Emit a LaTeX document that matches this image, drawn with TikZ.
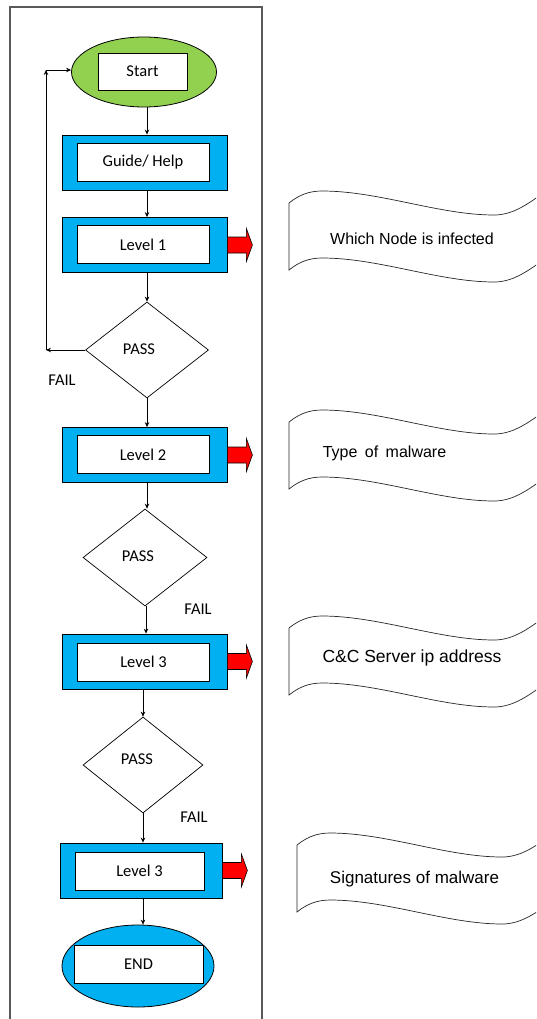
\documentclass[tikz,border=0pt]{standalone}
\usepackage{fontspec}
\setmainfont{Carlito}
\newfontfamily\arialf{Liberation Sans}
\usetikzlibrary{shapes.geometric,arrows.meta,calc}
\definecolor{cblue}{HTML}{00B0F0}
\definecolor{cgreen}{HTML}{92D050}
\definecolor{cframe}{HTML}{595959}
\begin{document}
\begin{tikzpicture}[x=1pt,y=-1pt,
  outerbox/.style={draw=black, fill=cblue, minimum width=165pt, minimum height=55pt, inner sep=0pt, line width=0.8pt},
  innerbox/.style={draw=black, fill=white, minimum width=132pt, minimum height=38pt, inner sep=0pt, line width=0.8pt, font=\fontsize{16.5}{18}\selectfont},
  oval/.style={ellipse, draw=black, line width=0.8pt, inner sep=0pt},
  decision/.style={diamond, draw=black, line width=0.7pt, inner sep=0pt, minimum width=123pt, minimum height=96pt},
  lbl/.style={inner sep=0pt, font=\fontsize{16.5}{18}\selectfont},
  wavetxt/.style={inner sep=0pt, font=\arialf\fontsize{16}{18}\selectfont},
  arr/.style={-{Stealth[length=5pt,width=4.5pt]}, line width=0.8pt},
  redarrow/.style={fill=red, draw=black, line width=0.6pt},
  waveline/.style={draw=black!85, line width=0.7pt}
]
\useasboundingbox (0,0) rectangle (536,1019);
\clip (0,0) rectangle (536,1019);

% frame
\draw[cframe, line width=1.2pt] (10,1030) -- (10,7) -- (262,7) -- (262,1030);

% start
\node[oval, fill=cgreen, minimum width=145pt, minimum height=70pt] (start) at (144,72) {};
\node[innerbox, minimum width=89pt, minimum height=37pt] (starttxt) at (142.5,71.5) {Start};

% guide
\node[outerbox] (guide) at (144.5,162.5) {};
\node[innerbox] (guidetxt) at (143,162) {Guide/ Help};

% level 1
\node[outerbox] (l1) at (144.5,245) {};
\node[innerbox] (l1txt) at (143,244.5) {Level 1};

% decision 1
\node[decision] (d1) at (147,350) {};
\node[lbl] (d1txt) at (139,349) {PASS};
\node[lbl] (fail1) at (62,380) {FAIL};

% level 2
\node[outerbox] (l2) at (144.5,455) {};
\node[innerbox] (l2txt) at (143,454.5) {Level 2};

% decision 2
\node[decision, minimum width=124pt, minimum height=97pt] (d2) at (145,557.5) {};
\node[lbl] (d2txt) at (138,556) {PASS};
\node[lbl] (fail2) at (198,609) {FAIL};

% level 3
\node[outerbox] (l3) at (144.5,661.5) {};
\node[innerbox] (l3txt) at (143.5,662) {Level 3};

% decision 3
\node[decision, minimum width=120pt, minimum height=96pt] (d3) at (143,765) {};
\node[lbl] (d3txt) at (137,759) {PASS};
\node[lbl] (fail3) at (194,817) {FAIL};

% level 3 (second)
\node[outerbox, minimum width=162pt] (l4) at (141,870.5) {};
\node[innerbox, minimum width=129pt] (l4txt) at (139.5,871) {Level 3};

% end
\node[oval, fill=cblue, minimum width=152pt, minimum height=82pt] (end) at (138,966) {};
\node[innerbox, minimum width=129pt] (endtxt) at (138.5,964) {END};

% vertical connectors
\coordinate (colA) at (147,0);
\coordinate (colB) at (146,0);
\coordinate (colC) at (143,0);
\draw[arr] (colA |- start.south) -- (colA |- guide.north);
\draw[arr] (colA |- guide.south) -- (colA |- l1.north);
\draw[arr] (colA |- l1.south) -- (d1.north);
\draw[arr] (d1.south) -- (colA |- l2.north);
\draw[arr] (colA |- l2.south) -- (colA |- d2.north);
\draw[arr] (colB |- d2.south) -- (colB |- l3.north);
\draw[arr] (colC |- l3.south) -- (d3.north);
\draw[arr] (d3.south) -- (colC |- l4.north);
\draw[arr] (colC |- l4.south) -- (colC |- end.north);

% loop back
\coordinate (lp1) at (46,350);
\coordinate (lp2) at (46,70);
\draw[arr] (d1.west) -- (lp1);
\draw[arr] (lp1) -- (lp2);
\draw[arr] (lp2) -- (start.west |- lp2);

% red arrows
\foreach \b in {l1,l2,l3,l4}{
  \draw[redarrow] ($(\b.east)+(0,-8)$) -- ++(19,0) -- ++(0,-8.5) -- ++(6,16.5) -- ++(-6,16.5) -- ++(0,-8.5) -- ++(-19,0) -- cycle;
}

% waves
\foreach \wx/\wy in {289/203, 289/422, 289/628, 297/845}{
  \begin{scope}[shift={(\wx,\wy)}]
    \draw[waveline, fill=white] (0,0)
      .. controls (10,-8) and (20,-12) .. (33,-12)
      .. controls (90,-12) and (150,12) .. (205,12)
      .. controls (222,12) and (236,3) .. (250,-7)
      .. controls (260,-13) and (270,-16) .. (285,-16)
      -- (285,51)
      .. controls (270,51) and (260,54) .. (250,60)
      .. controls (236,70) and (222,79) .. (205,79)
      .. controls (150,79) and (90,55) .. (33,55)
      .. controls (20,55) and (10,59) .. (0,67) -- cycle;
  \end{scope}
}
\node[wavetxt] (w1) at (412,239) {Which Node is infected};
\node[wavetxt] (w2) at (384.5,453) {Type\hspace{3pt} of\hspace{3pt} malware};
\node[wavetxt, font=\arialf\fontsize{17.5}{20}\selectfont] (w3) at (412,658) {C\&C Server ip address};
\node[wavetxt, font=\arialf\fontsize{17}{20}\selectfont] (w4) at (414.5,879) {Signatures of malware};
\end{tikzpicture}
\end{document}
